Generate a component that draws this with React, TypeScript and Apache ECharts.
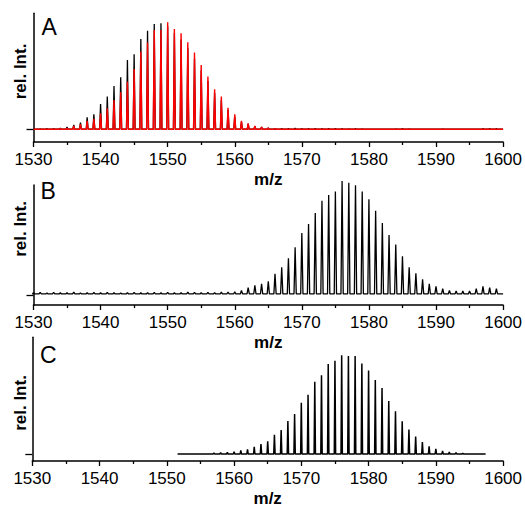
import React, { useEffect, useRef } from "react";
import * as echarts from "echarts";

// ---------- Data (relative intensities) ----------
// Panel A: measured (black) vs simulated (red) isotope pattern
const mzA = [1531, 1532, 1533, 1534, 1535, 1536, 1537, 1538, 1539, 1540, 1541, 1542, 1543, 1544, 1545, 1546, 1547, 1548, 1549, 1550, 1551, 1552, 1553, 1554, 1555, 1556, 1557, 1558, 1559, 1560, 1561, 1562, 1563, 1564, 1565, 1566];
const measuredA = [0.5, 0.6, 0.8, 1.0, 2.2, 4.0, 6.2, 11.2, 14.0, 23.7, 30.5, 40.5, 48.6, 64.8, 70.0, 84.4, 92.2, 98.4, 99.0, 96.0, 90.0, 84.0, 76.0, 66.0, 55.0, 45.0, 34.0, 27.0, 18.0, 12.0, 7.0, 5.0, 3.0, 2.0, 1.2, 0.8];
const simulatedA = [0, 0, 0.3, 0.6, 1.0, 3.0, 4.7, 7.8, 9.7, 15.0, 19.6, 27.4, 34.6, 44.5, 56.4, 72.6, 81.0, 92.8, 92.8, 100, 93.8, 89.7, 81.3, 71.7, 60.0, 49.2, 37.4, 30.5, 20.2, 14.0, 7.8, 5.6, 3.1, 2.2, 1.2, 0.6];
const noiseMzA = [1567, 1568, 1569, 1570, 1571, 1572, 1573, 1574, 1575, 1576, 1577, 1578, 1579, 1584, 1585, 1586, 1591, 1597, 1598, 1599];
const noiseA = [0.8, 0.7, 0.9, 0.6, 0.7, 0.8, 0.6, 0.7, 0.8, 0.6, 0.5, 0.6, 0.5, 0.5, 0.6, 0.5, 0.5, 0.6, 0.7, 0.6];

// Panel B: measured spectrum
const mzB = [1530, 1531, 1532, 1533, 1534, 1535, 1536, 1537, 1538, 1539, 1540, 1541, 1542, 1543, 1544, 1545, 1546, 1547, 1548, 1549, 1550, 1551, 1552, 1553, 1554, 1555, 1556, 1557, 1558, 1559, 1560, 1561, 1562, 1563, 1564, 1565, 1566, 1567, 1568, 1569, 1570, 1571, 1572, 1573, 1574, 1575, 1576, 1577, 1578, 1579, 1580, 1581, 1582, 1583, 1584, 1585, 1586, 1587, 1588, 1589, 1590, 1591, 1592, 1593, 1594, 1595, 1596, 1597, 1598, 1599];
const intensityB = [2.4, 2.7, 2.2, 2.6, 2.3, 2.5, 2.8, 2.2, 2.4, 2.6, 2.3, 2.7, 2.5, 2.2, 2.4, 2.6, 2.3, 2.5, 2.7, 2.4, 2.6, 2.3, 2.5, 2.8, 2.6, 2.4, 2.7, 2.5, 2.9, 3.0, 3.2, 4.5, 6.9, 9.0, 10.5, 12.6, 19.5, 25.5, 33.6, 43.5, 56.5, 64.6, 74.5, 85.6, 91.0, 94.0, 103.6, 102.0, 99.7, 94.0, 87.0, 76.6, 65.5, 54.7, 46.0, 35.4, 25.5, 20.0, 14.4, 10.5, 8.1, 6.0, 4.5, 3.9, 3.9, 3.9, 6.0, 8.1, 6.9, 6.0];
const floorB = 1.2;

// Panel C: simulated stick spectrum
const mzC = [1557, 1558, 1559, 1560, 1561, 1562, 1563, 1564, 1565, 1566, 1567, 1568, 1569, 1570, 1571, 1572, 1573, 1574, 1575, 1576, 1577, 1578, 1579, 1580, 1581, 1582, 1583, 1584, 1585, 1586, 1587, 1588, 1589, 1590, 1591, 1592, 1593, 1594];
const intensityC = [0.8, 1.1, 1.4, 1.9, 3.0, 3.9, 6.0, 8.5, 10.8, 16.3, 20.4, 28.2, 34.3, 43.9, 50.8, 61.9, 67.4, 77.0, 79.8, 84.5, 84.0, 84.0, 77.6, 71.5, 63.3, 56.4, 45.3, 36.5, 27.9, 21.0, 14.9, 10.2, 6.6, 4.4, 2.5, 1.7, 1.1, 0.6];
const rangeC = [1551.6, 1597.4];

const panelLetters = ["A", "B", "C"];
const xMin = 1530;
const xMax = 1600;

// builds a continuous spectrum line (spikes on a baseline) from the arrays
function spikes(mz: number[], vals: number[], half: number, base: number, start: number, end: number, extraMz: number[] = [], extraVals: number[] = []) {
  const pts: { m: number; v: number }[] = [];
  mz.forEach((m, i) => pts.push({ m, v: vals[i] }));
  extraMz.forEach((m, i) => pts.push({ m, v: extraVals[i] }));
  pts.sort((a, b) => a.m - b.m);
  const out: number[][] = [[start, base]];
  pts.forEach(({ m, v }) => {
    out.push([m - half, base]);
    out.push([m, v]);
    out.push([m + half, base]);
  });
  out.push([end, base]);
  return out;
}

const FONT = '"Liberation Sans", Arial, sans-serif';

export default function App() {
  const ref = useRef<HTMLDivElement>(null);
  useEffect(() => {
    if (!ref.current) return;
    const chart = echarts.init(ref.current, null, { renderer: "svg" });

    const grids = [
      { left: 33.5, top: 13.3, width: 471.5, height: 128.7 },
      { left: 33.5, top: 185, width: 471.5, height: 120 },
      { left: 32.3, top: 337.3, width: 471.7, height: 127.7 },
    ];
    const yRanges = [
      [-11.9, 108.4],
      [-8.8, 100],
      [-6.1, 100],
    ];

    const xAxes = grids.map((_, i) => ({
      type: "value",
      gridIndex: i,
      min: xMin,
      max: xMax,
      interval: 10,
      name: "m/z",
      nameLocation: "middle",
      nameGap: 29,
      nameTextStyle: { fontFamily: FONT, fontWeight: "bold", fontSize: 17, color: "#000" },
      axisLine: { onZero: false, lineStyle: { color: "#000", width: 1.5 } },
      axisTick: { show: true, inside: false, length: 5, lineStyle: { color: "#000", width: 1.3 } },
      minorTick: { show: true, splitNumber: 2, length: 3, lineStyle: { color: "#000", width: 1.3 } },
      axisLabel: { fontFamily: FONT, fontSize: 17, color: "#000", margin: 9, formatter: (v: number) => String(v) },
      splitLine: { show: false },
      minorSplitLine: { show: false },
    }));

    const yAxes = grids.map((_, i) => ({
      type: "value",
      gridIndex: i,
      min: yRanges[i][0],
      max: yRanges[i][1],
      axisLine: { show: true, onZero: false, lineStyle: { color: "#000", width: 1.5 } },
      axisTick: { show: true, customValues: [0], length: 7, lineStyle: { color: "#000", width: 1.3 } },
      axisLabel: { show: false },
      splitLine: { show: false },
    }));

    const lineBase = {
      type: "line",
      showSymbol: false,
      symbol: "none",
      clip: false,
      silent: true,
    };

    const series = [
      {
        ...lineBase,
        name: "A measured",
        xAxisIndex: 0,
        yAxisIndex: 0,
        data: spikes(mzA, measuredA, 0.14, 0, xMin, xMax, noiseMzA, noiseA),
        lineStyle: { color: "#000", width: 1.3 },
      },
      {
        ...lineBase,
        name: "A simulated",
        xAxisIndex: 0,
        yAxisIndex: 0,
        data: spikes(mzA, simulatedA, 0.14, 0, xMin, xMax),
        lineStyle: { color: "#ff0000", width: 1.4 },
      },
      {
        ...lineBase,
        name: "B",
        xAxisIndex: 1,
        yAxisIndex: 1,
        data: spikes(mzB, intensityB, 0.17, floorB, xMin, xMax),
        lineStyle: { color: "#000", width: 1.3 },
      },
      {
        ...lineBase,
        name: "C",
        xAxisIndex: 2,
        yAxisIndex: 2,
        data: spikes(mzC, intensityC, 0.1, 0, rangeC[0], rangeC[1]),
        lineStyle: { color: "#000", width: 1.5 },
      },
    ];

    const letterPos = [
      [41.5, 27],
      [40.5, 190.5],
      [40, 354.5],
    ];
    const relPos = [
      [20.5, 71.5],
      [20.5, 229],
      [20.5, 403],
    ];

    const graphic: any[] = [];
    panelLetters.forEach((L, i) => {
      graphic.push({
        type: "text",
        x: letterPos[i][0],
        y: letterPos[i][1],
        style: { text: L, font: `23px ${FONT}`, fill: "#000", align: "left", verticalAlign: "middle" },
      });
      graphic.push({
        type: "text",
        x: relPos[i][0],
        y: relPos[i][1],
        rotation: Math.PI / 2,
        style: { text: "rel. Int.", font: `bold 17px ${FONT}`, fill: "#000", align: "center", verticalAlign: "middle" },
      });
    });

    chart.setOption({
      animation: false,
      backgroundColor: "#fff",
      grid: grids,
      xAxis: xAxes,
      yAxis: yAxes,
      series,
      graphic,
    } as any);

    return () => chart.dispose();
  }, []);

  return <div ref={ref} style={{ width: 525, height: 508, position: "absolute", left: 0, top: 0 }} />;
}
